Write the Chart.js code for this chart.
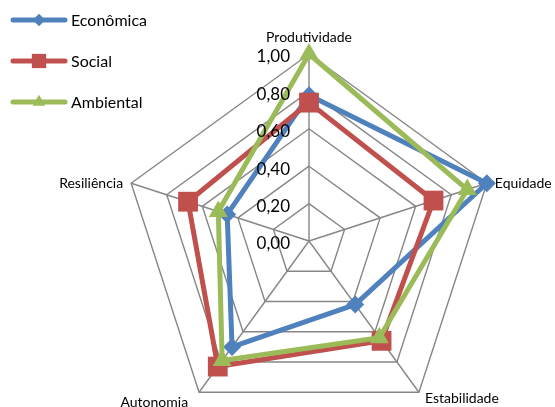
<!DOCTYPE html>
<html>
<head>
<meta charset="utf-8">
<script src="https://cdn.jsdelivr.net/npm/chart.js@4/dist/chart.umd.min.js"></script>
<style>
  html, body { margin: 0; padding: 0; background: #fff; overflow: hidden; }
  #wrap { position: relative; width: 555px; height: 440px; }
</style>
</head>
<body>
<div id="wrap"><canvas id="radarChart"></canvas></div>
<script>
const labels = ['Produtividade', 'Equidade', 'Estabilidade', 'Autonomia', 'Resiliência'];
const seriesNames = ['Econômica', 'Social', 'Ambiental'];
const economica = [0.78, 1.00, 0.42, 0.70, 0.46];
const social    = [0.74, 0.70, 0.66, 0.83, 0.68];
const ambiental = [1.00, 0.89, 0.64, 0.79, 0.51];
const tickValues = [0, 0.2, 0.4, 0.6, 0.8, 1.0];

const BLUE = '#4F81BD', RED = '#C0504D', GREEN = '#9BBB59';
const GRID = '#868686';
const FONT = 'Lato, "Open Sans", sans-serif';

function fmt(v) { return v.toFixed(2).replace('.', ','); }

// axis names, tick values and legend, placed from the scale's own geometry
const radarLabels = {
    id: 'radarLabels',
    beforeDatasetsDraw(chart) {
        const ctx = chart.ctx;
        const r = chart.scales.r;
        ctx.save();
        ctx.fillStyle = '#000';
        ctx.textBaseline = 'middle';
        ctx.font = '14px ' + FONT;
        labels.forEach((name, i) => {
            const p = r.getPointPosition(i, r.drawingArea);
            let x = p.x, y = p.y, align = 'center';
            if (i === 0) { y -= 17; }
            else if (i === 1) { x += 8; align = 'left'; }
            else if (i === 2) { x += 6; y += 6; align = 'left'; }
            else if (i === 3) { x -= 11; y += 10; align = 'right'; }
            else { x -= 8; align = 'right'; }
            ctx.textAlign = align;
            ctx.fillText(name, x, y);
        });
        ctx.restore();
    },
    afterDatasetsDraw(chart) {
        const ctx = chart.ctx;
        const r = chart.scales.r;
        ctx.save();
        ctx.fillStyle = '#000';
        ctx.font = '17px ' + FONT;
        ctx.textAlign = 'right';
        ctx.textBaseline = 'middle';
        tickValues.forEach(v => {
            const d = r.getDistanceFromCenterForValue(v);
            ctx.fillText(fmt(v), r.xCenter - 19, r.yCenter - d + 3);
        });
        ctx.restore();
    },
    afterDraw(chart) {
        // legend, top-left, one row per series
        const ctx = chart.ctx;
        const rows = [20, 61, 102];
        ctx.save();
        [2, 1, 0].forEach((di, k) => {
            const ds = chart.data.datasets[di];
            const y = rows[k];
            ctx.strokeStyle = ds.borderColor;
            ctx.lineWidth = 5;
            ctx.lineCap = 'round';
            ctx.beginPath();
            ctx.moveTo(13, y);
            ctx.lineTo(65, y);
            ctx.stroke();
            ctx.fillStyle = ds.borderColor;
            Chart.helpers.drawPoint(ctx, {
                pointStyle: ds.pointStyle,
                radius: ds.legendRadius,
                borderWidth: 0
            }, 39, y);
            ctx.fill();
            ctx.fillStyle = '#000';
            ctx.font = '16px ' + FONT;
            ctx.textAlign = 'left';
            ctx.textBaseline = 'middle';
            ctx.fillText(ds.label, 71, y + 1);
        });
        ctx.restore();
    }
};

new Chart('radarChart', {
    type: 'radar',
    data: {
        labels: labels,
        datasets: [
            {
                label: seriesNames[2], data: ambiental, order: 0,
                borderColor: GREEN, backgroundColor: GREEN,
                pointStyle: 'triangle', pointRadius: 11, legendRadius: 7
            },
            {
                label: seriesNames[1], data: social, order: 1,
                borderColor: RED, backgroundColor: RED,
                pointStyle: 'rect', pointRadius: 14, legendRadius: 10
            },
            {
                label: seriesNames[0], data: economica, order: 2,
                borderColor: BLUE, backgroundColor: BLUE,
                pointStyle: 'rectRot', pointRadius: 9, legendRadius: 6
            }
        ].map(ds => Object.assign(ds, {
            fill: false,
            borderWidth: 5,
            borderJoinStyle: 'round',
            pointBorderWidth: 0,
            pointBackgroundColor: ds.borderColor,
            pointHoverRadius: ds.pointRadius
        }))
    },
    options: {
        responsive: true,
        maintainAspectRatio: false,
        animation: false,
        layout: { padding: { left: 122, top: 54, right: 59, bottom: 12 } },
        plugins: { legend: { display: false }, tooltip: { enabled: false } },
        scales: {
            r: {
                min: 0,
                max: 1,
                ticks: { stepSize: 0.2, display: false },
                pointLabels: { display: false },
                grid: { color: GRID, lineWidth: 1.4 },
                angleLines: { color: GRID, lineWidth: 1.4 }
            }
        }
    },
    plugins: [radarLabels]
});
</script>
</body>
</html>
